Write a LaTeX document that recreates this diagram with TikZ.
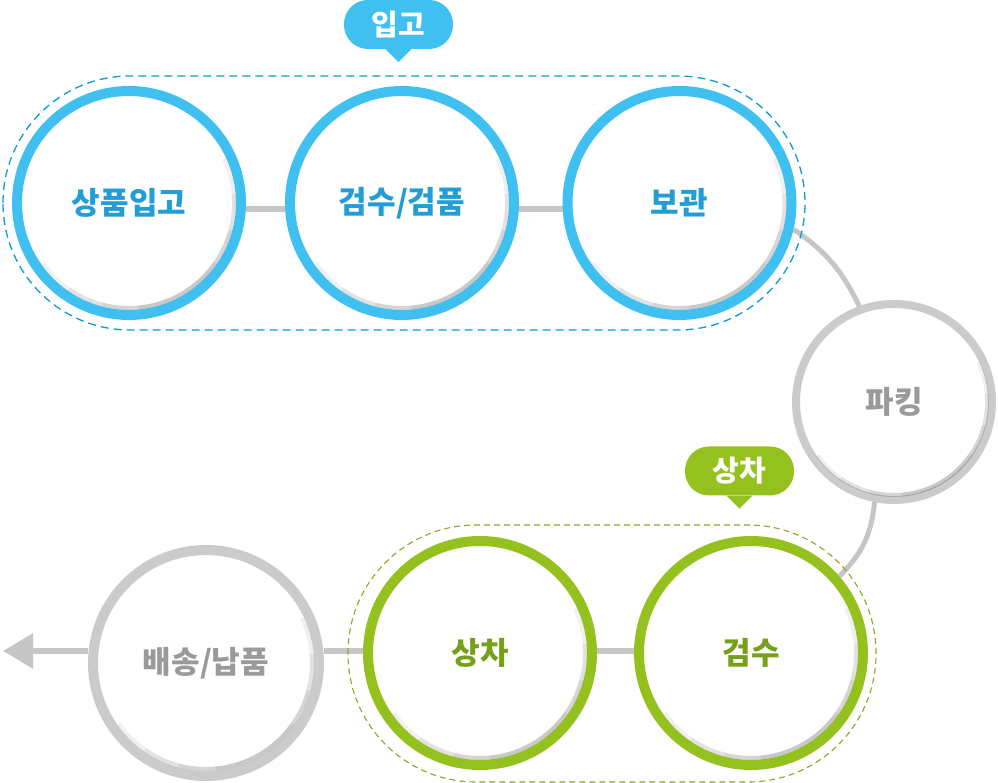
\documentclass[tikz,border=0pt]{standalone}
\usepackage{fontspec}
\newfontfamily\krfont{Noto Sans CJK KR}
\usetikzlibrary{arrows.meta,backgrounds,calc}
\definecolor{ringblue}{HTML}{40C0F0}
\definecolor{dashblue}{HTML}{0A9CCC}
\definecolor{textblue}{HTML}{229DD5}
\definecolor{ringgreen}{HTML}{95C11F}
\definecolor{dashgreen}{HTML}{88A81E}
\definecolor{textgreen}{HTML}{76A01A}
\definecolor{ringgray}{HTML}{CBCBCB}
\definecolor{textgray}{HTML}{9A9A9A}
\definecolor{linkgray}{HTML}{C6C6C6}
\tikzset{
	stage/.style={circle,fill=white,inner sep=0pt,line width=10pt,minimum size=224pt,
		font=\krfont\bfseries\fontsize{31}{34}\selectfont},
	stage blue/.style={stage,draw=ringblue,text=textblue},
	stage green/.style={stage,draw=ringgreen,text=textgreen},
	stage gray/.style={stage,draw=ringgray,text=textgray},
	tag/.style={fill=#1,text=white,rounded corners=24pt,inner sep=0pt,
		minimum width=109pt,minimum height=49pt,
		font=\krfont\bfseries\fontsize{29}{31}\selectfont},
	link/.style={draw=linkgray,line width=6pt},
	bow/.style={draw=linkgray,line width=5pt},
	group/.style={draw=#1,line width=1.3pt,dash pattern=on 8pt off 5pt,rounded corners=127pt},
	shade/.style={draw=black!80,line width=4pt,opacity=.07}
}
% soft inner shadow along the lower right of a ring: node, radius
\newcommand\ringshade[2]{\foreach \a in {25,45,65,85} {\draw[shade] ($(#1.center)+(-60+\a:#2)$) arc[start angle=-60+\a,end angle=-60-\a,radius=#2];}}
\begin{document}
\begin{tikzpicture}[x=1pt,y=1pt]
	\useasboundingbox (0,0) rectangle (998,783);
	% inbound group
	\draw[group=dashblue] (3,453) rectangle (805,707);
	\node[stage blue] (ipgo) at (129,580) {상품입고};
	\node[stage blue] (geompum) at (402,580) {검수/검품};
	\node[stage blue] (bogwan) at (679.5,580) {보관};
	\foreach \n in {ipgo,geompum,bogwan} {\ringshade{\n}{105pt}}
	\node[tag=ringblue] (tagipgo) at (398.5,758.5) {입고};
	\fill[ringblue] ([xshift=-13]tagipgo.south) -- ([xshift=13]tagipgo.south) -- ++(-13,-13) -- cycle;
	% picking
	\node[stage gray,line width=8pt,minimum size=196pt] (picking) at (894,381) {파킹};
	\ringshade{picking}{93pt}
	% loading group
	\draw[group=dashgreen,line width=1.1pt,dash pattern=on 6pt off 4pt,rounded corners=128pt] (348,1) rectangle (876,258);
	\node[stage green] (sangcha) at (480,130) {상차};
	\node[stage green] (geomsu) at (751,130) {검수};
	\foreach \n in {sangcha,geomsu} {\ringshade{\n}{105pt}}
	\node[tag=ringgreen] (tagsangcha) at (739.5,312) {상차};
	\fill[ringgreen] ([xshift=-13]tagsangcha.south) -- ([xshift=13]tagsangcha.south) -- ++(-13,-13) -- cycle;
	% delivery
	\node[stage gray,minimum size=226pt] (baesong) at (206,120) {배송/납품};
	\ringshade{baesong}{106pt}
	\begin{scope}[on background layer]
		\draw[link] ([yshift=-6]ipgo.east) -- ([yshift=-6]ipgo.east -| geompum.west);
		\draw[link] ([yshift=-6]geompum.east) -- ([yshift=-6]geompum.east -| bogwan.west);
		\draw[bow] (bogwan.-13) to[bend left=15] (picking.110);
		\draw[bow] (picking.259) to[bend left=20] (geomsu.41);
		\draw[link] ([yshift=2]geomsu.west) -- ([yshift=2]geomsu.west -| sangcha.east);
		\draw[link] ([yshift=12]baesong.east) -- ([yshift=12]baesong.east -| sangcha.west);
		\coordinate (out) at (3,132);
		\draw[link,-{Triangle[length=30pt,width=34pt]}] ([yshift=12]baesong.west) -- (out);
	\end{scope}
\end{tikzpicture}
\end{document}
